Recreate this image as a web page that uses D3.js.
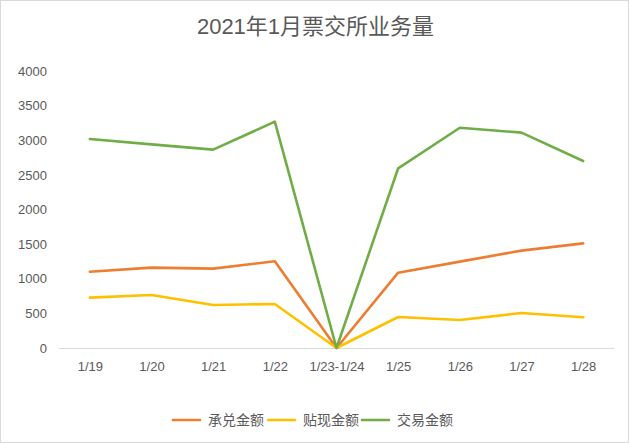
<!DOCTYPE html>
<html lang="zh">
<head>
  <meta charset="UTF-8">
  <title>2021年1月票交所业务量</title>
  <script src="https://d3js.org/d3.v7.min.js"></script>
  <style>
    body { margin: 0; background: #ffffff; }
    svg { display: block; font-family: "Liberation Sans", "Noto Sans CJK SC", sans-serif; }
  </style>
</head>
<body>
  <script>
    const width = 629;
    const height = 443;

    const dates = ["1/19", "1/20", "1/21", "1/22", "1/23-1/24", "1/25", "1/26", "1/27", "1/28"];
    const acceptance = [1102, 1160, 1146, 1252, 0, 1088, 1247, 1406, 1511];
    const discount = [727, 765, 621, 635, 0, 448, 404, 505, 443];
    const trade = [3018, 2941, 2864, 3268, 0, 2595, 3181, 3110, 2700];
    const yTicks = [0, 500, 1000, 1500, 2000, 2500, 3000, 3500, 4000];

    const series = [
      { name: "承兑金额", values: acceptance, color: "#ED7D31" },
      { name: "贴现金额", values: discount, color: "#FFC000" },
      { name: "交易金额", values: trade, color: "#70AD47" }
    ];

    const margin = { top: 71, right: 15, bottom: 95, left: 59 };

    const x = d3.scalePoint()
        .domain(dates)
        .range([margin.left, width - margin.right])
        .padding(0.5);

    const y = d3.scaleLinear()
        .domain([0, 4000])
        .range([height - margin.bottom, margin.top]);

    const svg = d3.select("body").append("svg")
        .attr("width", width)
        .attr("height", height);

    // 外框
    svg.append("rect")
        .attr("x", 0.5).attr("y", 0.5)
        .attr("width", width - 1).attr("height", height - 1)
        .attr("fill", "#fff")
        .attr("stroke", "#d9d9d9");

    svg.append("text")
        .attr("x", width / 2 + 1)
        .attr("y", 34)
        .attr("text-anchor", "middle")
        .attr("fill", "#595959")
        .style("font-size", "22px")
        .text("2021年1月票交所业务量");

    // y 轴
    const yAxis = svg.append("g")
        .attr("transform", `translate(${margin.left - 12},0)`)
        .call(d3.axisLeft(y).tickValues(yTicks).tickFormat(d3.format("d")).tickSize(0).tickPadding(0));
    yAxis.select(".domain").remove();
    yAxis.selectAll("text")
        .attr("fill", "#595959")
        .style("font-size", "13px")
        .style("font-family", "Liberation Sans");

    // x 轴
    const xAxis = svg.append("g")
        .attr("transform", `translate(0,${y(0)})`)
        .call(d3.axisBottom(x).tickSize(0).tickPadding(14));
    xAxis.select(".domain")
        .attr("stroke", "#d9d9d9")
        .attr("d", `M${margin.left},0.5H${width - margin.right}`);
    xAxis.selectAll("text")
        .attr("fill", "#595959")
        .style("font-size", "13px")
        .style("font-family", "Liberation Sans");

    const line = d3.line()
        .x((d, i) => x(dates[i]))
        .y(d => y(d));

    svg.append("g")
      .selectAll("path")
      .data(series)
      .join("path")
        .attr("d", d => line(d.values))
        .attr("fill", "none")
        .attr("stroke", d => d.color)
        .attr("stroke-width", 2.6)
        .attr("stroke-linejoin", "round")
        .attr("stroke-linecap", "round");

    // 图例
    const legendX = [173, 268, 362];
    const legend = svg.append("g")
      .selectAll("g")
      .data(series)
      .join("g")
        .attr("transform", (d, i) => `translate(${legendX[i]},${420})`);

    legend.append("line")
        .attr("x1", 0).attr("x2", 27)
        .attr("stroke", d => d.color)
        .attr("stroke-width", 2.6)
        .attr("stroke-linecap", "round");

    legend.append("text")
        .attr("x", 35)
        .attr("dy", "0.35em")
        .attr("fill", "#595959")
        .style("font-size", "14px")
        .style("font-family", "Noto Sans CJK SC")
        .text(d => d.name);
  </script>
</body>
</html>
